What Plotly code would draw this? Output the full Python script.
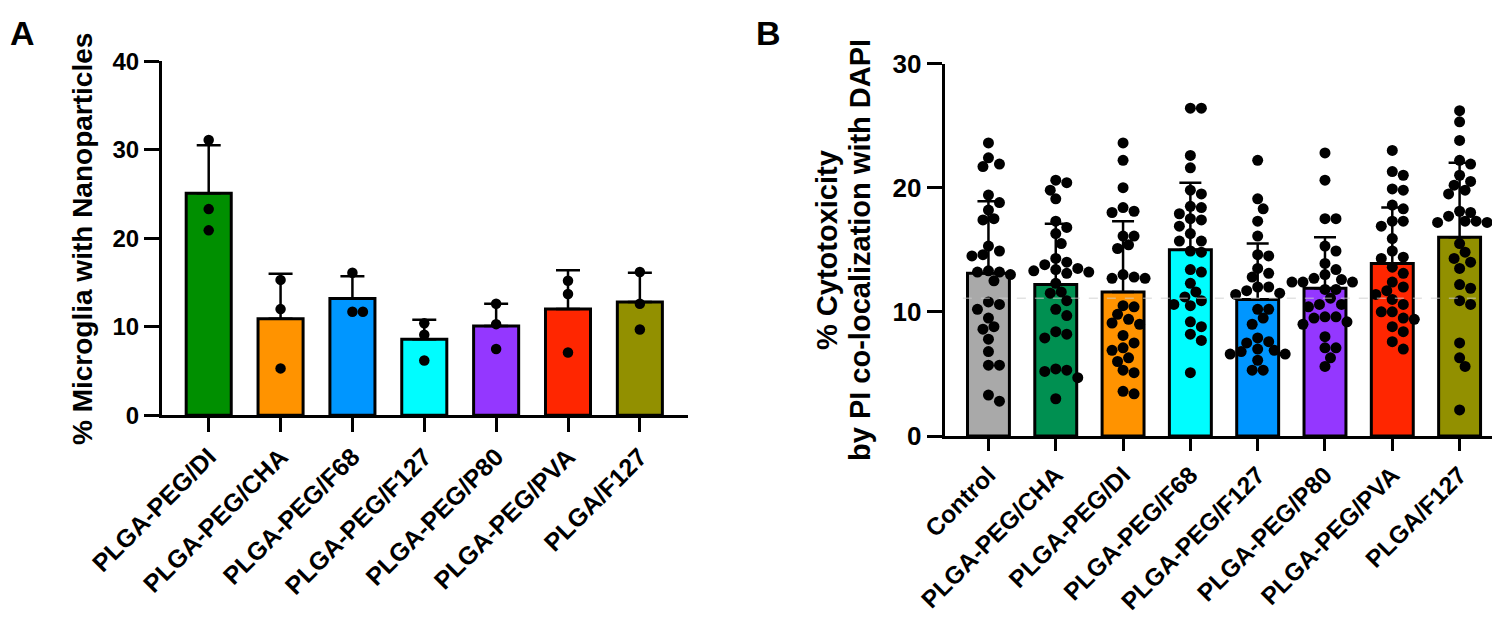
import numpy as np
import plotly.graph_objects as go

W, H = 1500, 621
FONT = "Liberation Sans, Arial, Helvetica, sans-serif"

# ---------------- Panel A data ----------------
cats_a = ["PLGA-PEG/DI", "PLGA-PEG/CHA", "PLGA-PEG/F68", "PLGA-PEG/F127",
          "PLGA-PEG/P80", "PLGA-PEG/PVA", "PLGA/F127"]
mean_a = [25.1, 10.9, 13.2, 8.6, 10.1, 12.0, 12.8]
sd_a = [5.4, 5.1, 2.5, 2.2, 2.5, 4.4, 3.3]
pts_a = [
    [31.1, 23.3, 20.9],
    [15.3, 12.0, 5.3],
    [16.1, 11.7, 11.7],
    [10.4, 9.1, 6.2],
    [12.6, 10.3, 7.5],
    [15.2, 13.7, 7.1],
    [16.2, 12.6, 9.7],
]
colors_a = ["#008F00", "#FF9300", "#0096FF", "#00FDFF", "#9437FF", "#FF2600", "#929000"]
yticks_a = [0, 10, 20, 30, 40]

# ---------------- Panel B data ----------------
cats_b = ["Control", "PLGA-PEG/CHA", "PLGA-PEG/DI", "PLGA-PEG/F68",
          "PLGA-PEG/F127", "PLGA-PEG/P80", "PLGA-PEG/PVA", "PLGA/F127"]
mean_b = [13.1, 12.2, 11.6, 15.0, 11.0, 11.9, 13.9, 16.0]
sd_b = [5.8, 4.9, 5.7, 5.4, 4.5, 4.1, 4.5, 6.0]
pts_control = [23.6, 22.4, 21.9, 21.7, 19.4, 18.8, 18.2, 17.4, 17.5, 14.9,
               15.3, 14.6, 14.5, 13.2, 13.3, 13.0, 13.2, 12.5, 10.8, 10.6,
               10.2, 9.5, 8.6, 8.8, 7.8, 6.8, 5.7, 5.7, 3.3, 2.8]
pts_cha = [20.6, 20.4, 19.8, 19.1, 17.3, 16.8, 16.3, 15.5, 14.3, 14.0,
           13.8, 13.5, 13.4, 13.3, 13.2, 13.1, 12.3, 11.6, 11.5, 10.9,
           10.2, 9.7, 8.4, 8.2, 7.9, 5.4, 5.2, 5.3, 4.7, 3.0]
pts_di = [23.6, 22.2, 20.0, 18.0, 18.4, 18.1, 15.4, 16.1, 16.1, 15.1,
          12.8, 13.0, 12.7, 12.7, 10.5, 10.4, 9.8, 9.0, 9.4, 9.1,
          8.1, 7.5, 6.9, 7.1, 6.3, 6.0, 5.3, 5.1, 3.4, 3.6]
pts_f68 = [26.4, 26.4, 22.6, 21.6, 19.5, 19.8, 18.5, 17.9, 18.4, 17.5,
           17.4, 16.9, 16.3, 15.7, 15.7, 14.8, 14.9, 13.4, 13.2, 12.3,
           11.6, 10.6, 10.5, 10.9, 11.2, 9.2, 8.8, 8.2, 7.7, 5.1]
pts_f127 = [22.2, 19.1, 18.3, 17.3, 16.1, 14.6, 14.5, 13.5, 13.1, 12.8,
            12.0, 12.0, 11.7, 11.5, 11.4, 10.2, 10.2, 9.5, 9.0, 7.9,
            7.6, 7.5, 6.8, 6.9, 7.0, 6.6, 6.6, 6.1, 5.3, 5.3]
pts_p80 = [22.8, 20.6, 17.5, 17.5, 15.3, 14.9, 13.9, 13.4, 13.0, 12.4,
           12.4, 12.7, 12.6, 12.4, 11.8, 11.8, 11.1, 10.6, 10.6, 10.4,
           9.5, 9.6, 9.6, 9.2, 9.0, 8.0, 7.1, 7.1, 6.3, 5.6]
pts_pva = [23.0, 21.3, 21.0, 19.9, 19.8, 18.6, 18.3, 17.3, 17.3, 16.9,
           15.9, 14.9, 14.3, 14.4, 13.6, 13.1, 12.4, 12.0, 11.7, 11.4,
           11.0, 10.6, 10.0, 10.0, 9.5, 9.4, 8.8, 8.4, 7.6, 7.0]
pts_plga = [26.2, 25.3, 23.8, 22.2, 21.9, 21.0, 20.5, 20.2, 19.8, 19.5,
            18.1, 18.0, 17.3, 17.3, 17.2, 17.2, 17.7, 15.5, 14.8, 14.3,
            14.0, 13.5, 12.2, 11.9, 10.9, 10.6, 7.5, 6.3, 5.6, 2.1]
pts_b = [pts_control, pts_cha, pts_di, pts_f68, pts_f127, pts_p80, pts_pva, pts_plga]
colors_b = ["#A9A9A9", "#009051", "#FF9300", "#00FDFF", "#0096FF", "#9437FF", "#FF2600", "#929000"]
yticks_b = [0, 10, 20, 30]


def swarm(vals, ppu_y, ppu_x, diam):
    """Deterministic beeswarm offsets (in category units)."""
    placed = []
    offs = []
    step = diam / 2.0
    cands = [0.0]
    for k in range(1, 30):
        cands += [k * step, -k * step]
    for v in sorted(vals, reverse=True):
        y = v * ppu_y
        chosen = cands[-1]
        for c in cands:
            if all((c - px) ** 2 + (y - py) ** 2 >= (diam * 0.92) ** 2 for px, py in placed):
                chosen = c
                break
        placed.append((chosen, y))
        offs.append((v, chosen / ppu_x))
    return offs


def fx(p):
    return p / W


def fy(p):
    return 1 - p / H


fig = go.Figure()

# ---------- Panel A geometry ----------
A_left, A_right, A_bottom, A_top = 154, 680, 407.3, 53.3
A_xr = [-0.65, 6.67]
A_ppu_x = (A_right - A_left) / (A_xr[1] - A_xr[0])
A_ppu_y = (A_bottom - A_top) / 40.0

fig.add_trace(go.Bar(
    x=list(range(len(cats_a))), y=mean_a, width=0.627,
    marker=dict(color=colors_a, line=dict(color="black", width=3)),
    error_y=dict(type="data", symmetric=False, array=sd_a,
                 arrayminus=[0] * len(sd_a), color="black", thickness=2.5, width=12),
    xaxis="x", yaxis="y", showlegend=False, hoverinfo="skip"))

xa, ya = [], []
for i, vals in enumerate(pts_a):
    for v, o in swarm(vals, A_ppu_y, A_ppu_x, 10.5):
        xa.append(i + o)
        ya.append(v)
fig.add_trace(go.Scatter(x=xa, y=ya, mode="markers",
                         marker=dict(color="black", size=10.5, line=dict(width=0)),
                         xaxis="x", yaxis="y", showlegend=False, hoverinfo="skip"))

# ---------- Panel B geometry ----------
B_left, B_right, B_bottom, B_top = 936.7, 1494, 428.0, 55.5
B_xr = [-0.65, 7.63]
B_ppu_x = (B_right - B_left) / (B_xr[1] - B_xr[0])
B_ppu_y = (B_bottom - B_top) / 30.0

fig.add_trace(go.Bar(
    x=list(range(len(cats_b))), y=mean_b, width=0.623,
    marker=dict(color=colors_b, line=dict(color="black", width=3)),
    error_y=dict(type="data", symmetric=False, array=sd_b,
                 arrayminus=[0] * len(sd_b), color="black", thickness=2.5, width=11),
    xaxis="x2", yaxis="y2", showlegend=False, hoverinfo="skip"))

xb, yb = [], []
for i, vals in enumerate(pts_b):
    for v, o in swarm(vals, B_ppu_y, B_ppu_x, 11):
        xb.append(i + o)
        yb.append(v)
fig.add_trace(go.Scatter(x=xb, y=yb, mode="markers",
                         marker=dict(color="black", size=11, line=dict(width=0)),
                         xaxis="x2", yaxis="y2", showlegend=False, hoverinfo="skip"))

axis_common = dict(showline=True, linewidth=3, linecolor="black", ticks="outside",
                   tickwidth=3, tickcolor="black", showgrid=False, zeroline=False,
                   fixedrange=True, automargin=False)

fig.update_layout(
    template="none",
    width=W, height=H,
    margin=dict(l=0, r=0, t=0, b=0, pad=0, autoexpand=False),
    paper_bgcolor="white", plot_bgcolor="white",
    font=dict(family=FONT, color="black"),
    showlegend=False,
    xaxis=dict(domain=[fx(A_left), fx(A_right)], range=A_xr, anchor="y",
               tickmode="array", tickvals=list(range(len(cats_a))), ticktext=cats_a,
               tickangle=-45, ticklen=14,
               tickfont=dict(family=FONT, size=25, weight="bold", color="black"),
               **axis_common),
    yaxis=dict(domain=[fy(A_bottom), fy(A_top)], range=[0, 40], anchor="x",
               tickmode="array", tickvals=yticks_a, ticklen=15,
               tickfont=dict(family=FONT, size=24, weight="bold", color="black"),
               **axis_common),
    xaxis2=dict(domain=[fx(B_left), fx(B_right)], range=B_xr, anchor="y2",
                tickmode="array", tickvals=list(range(len(cats_b))), ticktext=cats_b,
                tickangle=-45, ticklen=12,
                tickfont=dict(family=FONT, size=24.5, weight="bold", color="black"),
                **axis_common),
    yaxis2=dict(domain=[fy(B_bottom), fy(B_top)], range=[0, 30], anchor="x2",
                tickmode="array", tickvals=yticks_b, ticklen=15,
                tickfont=dict(family=FONT, size=26, weight="bold", color="black"),
                **axis_common),
)

# faint dashed reference line seen in panel B
fig.add_shape(type="line", xref="x2", yref="y2", x0=-0.38, x1=7.34, y0=11.1, y1=11.1,
              line=dict(color="rgba(205,205,205,0.85)", width=1, dash="dash"), layer="above")

ann_font = dict(family=FONT, color="black", weight="bold")
fig.add_annotation(text="A", x=fx(0), y=fy(25), xref="paper", yref="paper",
                   xanchor="left", yanchor="middle", showarrow=False,
                   font=dict(size=34, **ann_font))
fig.add_annotation(text="B", x=fx(746), y=fy(25), xref="paper", yref="paper",
                   xanchor="left", yanchor="middle", showarrow=False,
                   font=dict(size=34, **ann_font))
fig.add_annotation(text="% Microglia with Nanoparticles", x=fx(74), y=fy(231),
                   xref="paper", yref="paper", xanchor="center", yanchor="middle",
                   textangle=-90, showarrow=False, font=dict(size=28, **ann_font))
fig.add_annotation(text="% Cytotoxicity", x=fx(819), y=fy(242),
                   xref="paper", yref="paper", xanchor="center", yanchor="middle",
                   textangle=-90, showarrow=False, font=dict(size=29, **ann_font))
fig.add_annotation(text="by PI co-localization with DAPI", x=fx(852), y=fy(242),
                   xref="paper", yref="paper", xanchor="center", yanchor="middle",
                   textangle=-90, showarrow=False, font=dict(size=29, **ann_font))

fig.write_html("out.html")
